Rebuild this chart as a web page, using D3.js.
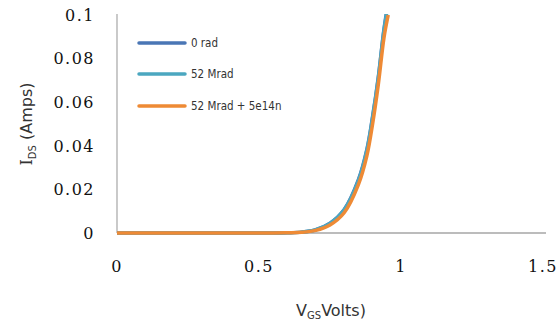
<!DOCTYPE html>
<html><head><meta charset="utf-8">
<script src="https://cdn.jsdelivr.net/npm/d3@7"></script>
<style>body{margin:0;background:#fff}svg{display:block}</style>
</head><body>
<svg id="c" width="559" height="320"></svg>
<script>
const vgs = [0,0.1,0.2,0.3,0.4,0.5,0.55,0.6,0.65,0.7,0.75,0.8,0.85,0.88,0.9,0.92,0.94,0.955];
const id0rad  = [0,0,0,0,0,0,0,0.0001,0.0004,0.0015,0.0045,0.0108,0.0245,0.0385,0.0535,0.0715,0.0935,0.1060];
const id52M   = [0,0,0,0,0,0,0,0.0001,0.0004,0.0015,0.0044,0.0106,0.0240,0.0380,0.0530,0.0710,0.0930,0.1050];
const id52Mn  = [0,0,0,0,0,0,0,0.0001,0.0003,0.0012,0.0037,0.0093,0.0222,0.0355,0.0500,0.0680,0.0895,0.1000];
const seriesNames = ["0 rad","52 Mrad","52 Mrad + 5e14n"];
const seriesColors = ["#4A76B5","#4BA7C0","#EE8A35"];
const xTicks = [0,0.5,1,1.5];
const xTickLabels = ["0","0.5","1","1.5"];
const yTicks = [0,0.02,0.04,0.06,0.08,0.1];
const yTickLabels = ["0","0.02","0.04","0.06","0.08","0.1"];

const svg = d3.select("#c");
const x = d3.scaleLinear().domain([0,1.5]).range([117,543]);
const y = d3.scaleLinear().domain([0,0.1]).range([233,15]);

svg.append("defs").append("clipPath").attr("id","clip")
  .append("rect").attr("x",110).attr("y",14).attr("width",440).attr("height",225);

// axes lines
svg.append("line").attr("x1",x(0)).attr("x2",546).attr("y1",y(0)).attr("y2",y(0))
  .attr("stroke","#A6A6A6").attr("stroke-width",1.5);
svg.append("line").attr("x1",x(0)).attr("x2",x(0)).attr("y1",y(0)).attr("y2",14)
  .attr("stroke","#A6A6A6").attr("stroke-width",1.2);

// tick labels
const tickFont = "'DejaVu Serif', serif";
svg.selectAll(".yt").data(yTicks).enter().append("text")
  .attr("x",95).attr("y",d=>y(d)).attr("dy","0.36em").attr("text-anchor","end")
  .attr("font-family",tickFont).attr("font-size",16).attr("letter-spacing","1.5px").attr("fill","#111")
  .text((d,i)=>yTickLabels[i]);
svg.selectAll(".xt").data(xTicks).enter().append("text")
  .attr("x",d=>x(d)).attr("y",272).attr("text-anchor","middle")
  .attr("font-family",tickFont).attr("font-size",16).attr("letter-spacing","1.5px").attr("fill","#111")
  .text((d,i)=>xTickLabels[i]);

// lines
const data = [id0rad,id52M,id52Mn];
const line = d3.line().x((d,i)=>x(vgs[i])).y(d=>y(d)).curve(d3.curveCatmullRom.alpha(0.5));
const g = svg.append("g").attr("clip-path","url(#clip)");
data.forEach((s,k)=>{
  g.append("path").attr("d",line(s)).attr("fill","none")
   .attr("stroke",seriesColors[k]).attr("stroke-width",3.5);
});

// legend
const ly = [43,74,106];
seriesNames.forEach((n,k)=>{
  svg.append("line").attr("x1",139).attr("x2",185).attr("y1",ly[k]).attr("y2",ly[k])
    .attr("stroke",seriesColors[k]).attr("stroke-width",3.5).attr("stroke-linecap","round");
  svg.append("text").attr("x",191).attr("y",ly[k]).attr("dy","0.36em")
    .attr("font-family","'DejaVu Sans Condensed','DejaVu Sans',sans-serif").attr("font-size",11.5).attr("fill","#333")
    .text(n);
});

// axis titles
const yt = svg.append("text").attr("transform","translate(32,124) rotate(-90)")
  .attr("text-anchor","middle").attr("font-family","'DejaVu Sans',sans-serif").attr("font-size",16).attr("fill","#333");
yt.append("tspan").attr("font-family","'DejaVu Serif',serif").text("I");
yt.append("tspan").attr("font-size",10).attr("dy",4).text("DS");
yt.append("tspan").attr("dy",-4).text(" (Amps)");

const xt = svg.append("text").attr("x",331).attr("y",316)
  .attr("text-anchor","middle").attr("font-family","'DejaVu Sans',sans-serif").attr("font-size",16).attr("fill","#333");
xt.append("tspan").text("V");
xt.append("tspan").attr("font-size",10).attr("dy",3).text("GS");
xt.append("tspan").attr("dy",-3).text("Volts)");
</script>
</body></html>
